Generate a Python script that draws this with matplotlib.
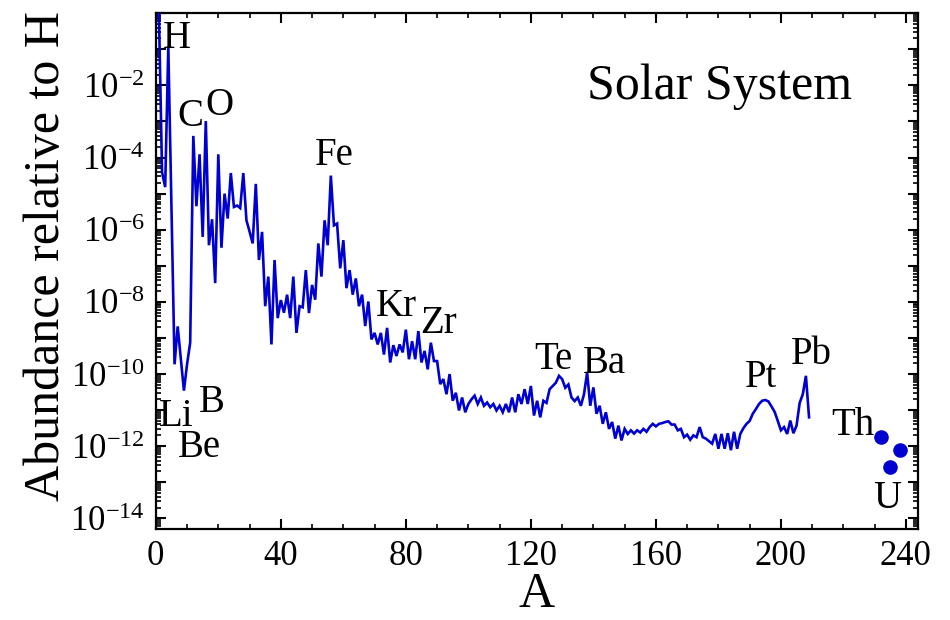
import numpy as np
import matplotlib
matplotlib.use("Agg")
import matplotlib.pyplot as plt
from matplotlib.ticker import MultipleLocator, LogLocator, FuncFormatter, NullFormatter

plt.rcParams["font.family"] = ["Liberation Serif", "DejaVu Serif"]
plt.rcParams["mathtext.fontset"] = "custom"
plt.rcParams["mathtext.rm"] = "Liberation Serif"
plt.rcParams["mathtext.it"] = "Liberation Serif:italic"
plt.rcParams["mathtext.bf"] = "Liberation Serif:bold"

# Solar-system isotopic abundances (log10, relative to H) versus mass number A
mass_number = [1, 2, 3, 4, 6, 7, 9, 10, 11, 12, 13, 14, 15, 16, 17, 18, 19, 20,
               21, 22, 23, 24, 25, 26, 27, 28, 29, 30, 31, 32, 33, 34, 35, 36, 37, 38,
               39, 40, 41, 42, 43, 44, 45, 46, 47, 48, 49, 50, 51, 52, 53, 54, 55, 56,
               57, 58, 59, 60, 61, 62, 63, 64, 65, 66, 67, 68, 69, 70, 71, 72, 73, 74,
               75, 76, 77, 78, 79, 80, 81, 82, 83, 84, 85, 86, 87, 88, 89, 90, 91, 92,
               93, 94, 95, 96, 97, 98, 99, 100, 101, 102, 103, 104, 105, 106, 107, 108,
               109, 110, 111, 112, 113, 114, 115, 116, 117, 118, 119, 120, 121, 122, 123,
               124, 125, 126, 127, 128, 129, 130, 131, 132, 133, 134, 135, 136, 137, 138,
               139, 140, 141, 142, 143, 144, 145, 146, 147, 148, 149, 150, 151, 152, 153,
               154, 155, 156, 157, 158, 159, 160, 161, 162, 163, 164, 165, 166, 167, 168,
               169, 170, 171, 172, 173, 174, 175, 176, 177, 178, 179, 180, 181, 182, 183,
               184, 185, 186, 187, 188, 189, 190, 191, 192, 193, 194, 195, 196, 197, 198,
               199, 200, 201, 202, 203, 204, 205, 206, 207, 208, 209]

log_abundance = [0.0, -4.41, -4.82, -0.93, -9.73, -8.68, -10.46, -9.73, -9.13, -3.40,
                 -5.35, -3.91, -6.20, -2.99, -6.43, -5.71, -7.48, -3.91,
                 -6.50, -5.00, -5.69, -4.43, -5.37, -5.33, -5.40, -4.43, -5.74, -6.05,
                 -6.38, -4.73, -6.84, -6.06, -8.12, -7.30, -9.18, -6.84,
                 -8.45, -7.95, -8.30, -7.80, -8.45, -7.30, -8.86, -8.12, -8.15, -7.12,
                 -8.31, -7.53, -7.94, -6.38, -7.30, -5.74, -6.43, -4.50,
                 -5.88, -5.83, -7.07, -6.29, -7.62, -7.12, -7.80, -7.35, -8.12, -7.80,
                 -8.67, -7.99, -9.04, -8.86, -9.18, -8.86, -9.46, -8.72,
                 -9.68, -9.20, -9.50, -9.18, -9.40, -8.77, -9.59, -9.09, -9.59, -8.81,
                 -9.68, -9.36, -9.87, -9.13, -9.64, -9.64, -10.28, -10.14,
                 -10.56, -10.00, -10.74, -10.52, -11.01, -10.65, -11.06, -10.83, -10.70,
                 -10.60, -10.83, -10.65, -10.88, -10.79, -10.92, -10.83,
                 -11.01, -10.88, -11.06, -10.83, -11.06, -10.65, -11.06, -10.56, -10.83,
                 -10.42, -10.83, -10.33, -11.15, -10.74, -11.20,
                 -10.74, -10.80, -10.42, -10.33, -10.24, -10.05, -10.14, -10.38, -10.29,
                 -10.65, -10.75, -10.65, -10.88, -10.56, -9.96,
                 -10.88, -10.37, -11.10, -10.88, -11.38, -11.06, -11.52, -11.33, -11.79,
                 -11.43, -11.84, -11.52, -11.66, -11.56, -11.65,
                 -11.56, -11.62, -11.52, -11.60, -11.47, -11.38, -11.45, -11.38, -11.36,
                 -11.33, -11.31, -11.40, -11.40, -11.56, -11.52,
                 -11.75, -11.68, -11.82, -11.70, -11.75, -11.47, -11.75, -11.79, -11.86,
                 -11.93, -11.66, -12.07, -11.66, -12.07, -11.64,
                 -12.11, -11.60, -12.07, -11.66, -11.50, -11.38, -11.30, -11.10, -10.97,
                 -10.83, -10.74, -10.72, -10.76, -10.90, -11.05,
                 -11.30, -11.56, -11.47, -11.66, -11.29, -11.64, -11.43, -10.80, -10.56,
                 -10.05, -11.20]

# Actinides shown as separate points
actinide_mass = [232, 235, 238]
actinide_log_abundance = [-11.75, -12.57, -12.11]

# Element labels: (text, A, log10 abundance of the baseline)
label_text = ["H", "C", "O", "Fe", "Kr", "Zr", "Te", "Ba", "Pt", "Pb",
              "Th", "U", "Li", "B", "Be"]
label_x = [6.9, 11.2, 20.3, 57.1, 77.1, 90.4, 127.2, 143.4, 193.5, 209.9,
           222.9, 234.1, 6.4, 18.0, 13.9]
label_logy = [-0.96, -3.13, -2.81, -4.20, -8.40, -8.86, -9.87, -9.96, -10.37, -9.73,
              -11.70, -13.72, -11.43, -11.06, -12.30]

x_ticks = [0, 40, 80, 120, 160, 200, 240]

blue = "#0000d0"

fig = plt.figure(figsize=(9.5, 6.2), dpi=100)
W, H = 950.0, 620.0
ax = fig.add_axes([155.8 / W, 1 - 529.2 / H, (917.5 - 155.8) / W, (529.2 - 13.2) / H])

abund = 10.0 ** np.array(log_abundance)
ax.plot(mass_number, abund, color=blue, lw=1.9, solid_joinstyle="miter", zorder=3)
ax.plot(actinide_mass, 10.0 ** np.array(actinide_log_abundance), "o", color=blue,
        ms=10.5, mec="none", zorder=3)

for t, x, ly in zip(label_text, label_x, label_logy):
    ax.text(x, 10.0 ** ly, t, fontsize=28, ha="center", va="baseline", zorder=4)

ax.text(180.5, 10.0 ** -2.39, "Solar System", fontsize=36, ha="center", va="baseline")

ax.set_yscale("log")
ax.set_xlim(0, 243.7)
ax.set_ylim(10.0 ** -14.3, 1.0)

ax.xaxis.set_major_locator(MultipleLocator(40))
ax.xaxis.set_minor_locator(MultipleLocator(10))
ax.set_xticks(x_ticks)
ax.set_xticklabels([str(v) for v in x_ticks])

ax.yaxis.set_major_locator(LogLocator(base=10, numticks=40))
ax.yaxis.set_minor_locator(LogLocator(base=10, subs=np.arange(2, 10), numticks=40))
ax.yaxis.set_minor_formatter(NullFormatter())


def exp_label(v, pos):
    e = int(round(np.log10(v)))
    if e % 2 != 0 or e >= 0:
        return ""
    return r"$\mathregular{10^{%d}}$" % e


ax.yaxis.set_major_formatter(FuncFormatter(exp_label))

ax.tick_params(which="both", direction="in", top=True, right=True)
ax.tick_params(which="major", length=7.5, width=1.5, labelsize=25, pad=8)
ax.tick_params(which="minor", length=3.8, width=1.2)
for s in ax.spines.values():
    s.set_linewidth(1.6)

fig.text(47 / W, 1 - 256 / H, "Abundance relative to H", rotation=90,
         fontsize=36, ha="center", va="center")
fig.text(537 / W, 1 - 607 / H, "A", fontsize=36, ha="center", va="baseline")

fig.savefig("out.png", dpi=100)
